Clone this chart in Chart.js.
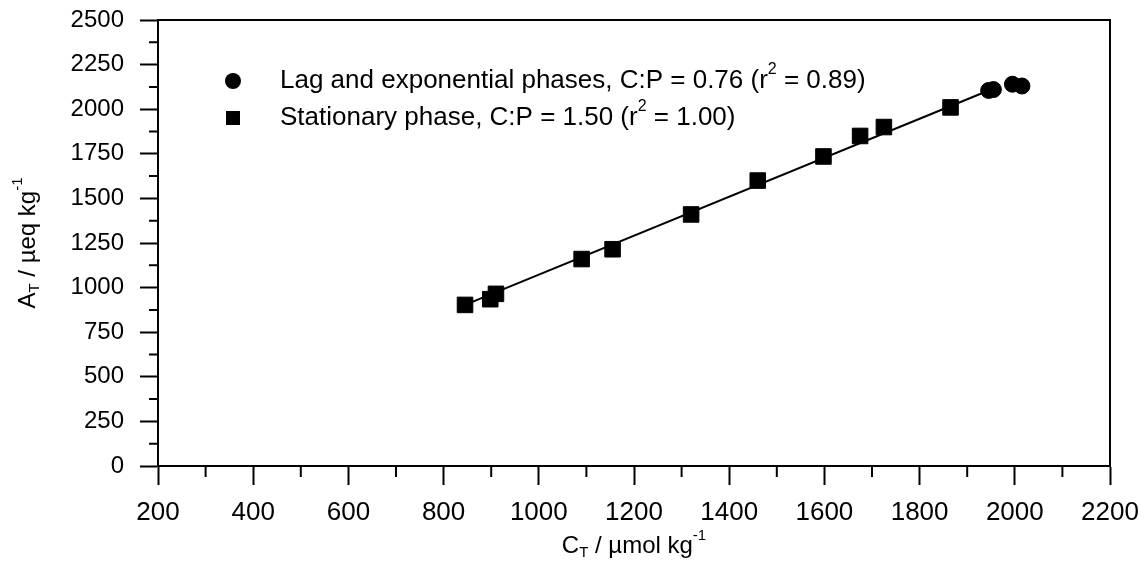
<!DOCTYPE html>
<html>
<head>
<meta charset="utf-8">
<script src="https://cdn.jsdelivr.net/npm/chart.js@4.4.1/dist/chart.umd.min.js"></script>
<style>
  html, body { margin: 0; padding: 0; background: #fff; }
  #wrap { width: 1141px; height: 573px; position: relative; }
</style>
</head>
<body>
<div id="wrap"><canvas id="chart"></canvas></div>
<script>
// values
const stationaryX = [845, 898, 910, 1090, 1155, 1320, 1460, 1598, 1675, 1725, 1865];
const stationaryY = [903, 935, 965, 1160, 1215, 1410, 1600, 1735, 1850, 1900, 2010];
const lagX = [1945, 1955, 1995, 2015];
const lagY = [2105, 2110, 2140, 2130];
const fitX = [845, 1945];
const fitY = [903, 2105];

const legendLabels = [
    ['Lag and exponential phases, C:P = 0.76 (r', '2', ' = 0.89)'],
    ['Stationary phase, C:P = 1.50 (r', '2', ' = 1.00)'],
];

const FONT = '"Liberation Sans", Arial, sans-serif';

function toPoints(xs, ys) {
    return xs.map((x, i) => ({ x: x, y: ys[i] }));
}

// draws text with sub / superscript pieces: [[text, 'n'|'sub'|'sup'], ...]
function drawRich(ctx, parts, x, y, size) {
    let cx = x;
    parts.forEach(([txt, kind]) => {
        const s = kind === 'n' ? size : Math.round(size * 0.62);
        const dy = kind === 'sub' ? size * 0.3 : kind === 'sup' ? -size * 0.42 : 0;
        ctx.font = s + 'px ' + FONT;
        ctx.fillText(txt, cx, y + dy);
        cx += ctx.measureText(txt).width;
    });
    return cx - x;
}

function richWidth(ctx, parts, size) {
    let w = 0;
    parts.forEach(([txt, kind]) => {
        const s = kind === 'n' ? size : Math.round(size * 0.62);
        ctx.font = s + 'px ' + FONT;
        w += ctx.measureText(txt).width;
    });
    return w;
}

const decorPlugin = {
    id: 'decor',
    afterDraw(chart) {
        const ctx = chart.ctx;
        const area = chart.chartArea;
        const xs = chart.scales.x;
        const ys = chart.scales.y;
        ctx.save();
        ctx.strokeStyle = '#000';
        ctx.fillStyle = '#000';
        ctx.lineWidth = 2;

        // frame
        ctx.strokeRect(area.left, area.top, area.right - area.left, area.bottom - area.top);

        // minor ticks
        ctx.beginPath();
        for (let v = 300; v < 2200; v += 200) {
            const px = xs.getPixelForValue(v);
            ctx.moveTo(px, area.bottom);
            ctx.lineTo(px, area.bottom + 11);
        }
        for (let v = 125; v < 2500; v += 250) {
            const py = ys.getPixelForValue(v);
            ctx.moveTo(area.left, py);
            ctx.lineTo(area.left - 9, py);
        }
        ctx.stroke();

        // axis titles
        const size = 24;
        ctx.textBaseline = 'middle';
        const xTitle = [['C', 'n'], ['T', 'sub'], [' / \u00b5mol kg', 'n'], ['-1', 'sup']];
        const wx = richWidth(ctx, xTitle, size);
        drawRich(ctx, xTitle, (area.left + area.right) / 2 - wx / 2, 546, size);

        const yTitle = [['A', 'n'], ['T', 'sub'], [' / \u00b5eq kg', 'n'], ['-1', 'sup']];
        const wy = richWidth(ctx, yTitle, size);
        ctx.save();
        ctx.translate(28, (area.top + area.bottom) / 2);
        ctx.rotate(-Math.PI / 2);
        drawRich(ctx, yTitle, -wy / 2, 0, size);
        ctx.restore();

        // legend
        const rows = [
            { y: 81, style: 'circle' },
            { y: 118, style: 'rect' },
        ];
        rows.forEach((row, i) => {
            const mx = 233;
            if (row.style === 'circle') {
                ctx.beginPath();
                ctx.arc(mx, row.y, 8, 0, Math.PI * 2);
                ctx.fill();
            } else {
                ctx.fillRect(mx - 7, row.y - 7, 14, 14);
            }
            const l = legendLabels[i];
            drawRich(ctx, [[l[0], 'n'], [l[1], 'sup'], [l[2], 'n']], 280, row.y, 26);
        });
        ctx.restore();
    },
};

new Chart(document.getElementById('chart'), {
    type: 'scatter',
    data: {
        datasets: [
            {
                label: 'fit',
                data: toPoints(fitX, fitY),
                showLine: true,
                borderColor: '#000',
                borderWidth: 2,
                pointRadius: 0,
                order: 3,
            },
            {
                label: 'Stationary phase',
                data: toPoints(stationaryX, stationaryY),
                pointStyle: 'rect',
                pointRadius: 11,
                backgroundColor: '#000',
                borderColor: '#000',
                order: 1,
            },
            {
                label: 'Lag and exponential phases',
                data: toPoints(lagX, lagY),
                pointStyle: 'circle',
                pointRadius: 8,
                backgroundColor: '#000',
                borderColor: '#000',
                order: 2,
            },
        ],
    },
    options: {
        responsive: true,
        maintainAspectRatio: false,
        animation: false,
        layout: { padding: { left: 0, right: 31, top: 20, bottom: 0 } },
        plugins: {
            legend: { display: false },
            tooltip: { enabled: false },
        },
        scales: {
            x: {
                type: 'linear',
                min: 200,
                max: 2200,
                afterFit: (scale) => {
                    scale.height = 107;
                    scale.paddingLeft = 0;
                    scale.paddingRight = 0;
                },
                ticks: {
                    stepSize: 200,
                    color: '#000',
                    padding: 12,
                    font: { family: FONT, size: 26 },
                    callback: (v) => String(v),
                },
                grid: {
                    drawOnChartArea: false,
                    color: '#000',
                    tickLength: 19,
                    tickWidth: 2,
                },
                border: { color: '#000', width: 2 },
            },
            y: {
                type: 'linear',
                min: 0,
                max: 2500,
                afterFit: (scale) => {
                    scale.width = 158;
                    scale.paddingTop = 0;
                    scale.paddingBottom = 0;
                },
                ticks: {
                    stepSize: 250,
                    color: '#000',
                    padding: 16,
                    font: { family: FONT, size: 24 },
                    callback: (v) => String(v),
                },
                grid: {
                    drawOnChartArea: false,
                    color: '#000',
                    tickLength: 18,
                    tickWidth: 2,
                },
                border: { color: '#000', width: 2 },
            },
        },
    },
    plugins: [decorPlugin],
});
</script>
</body>
</html>
